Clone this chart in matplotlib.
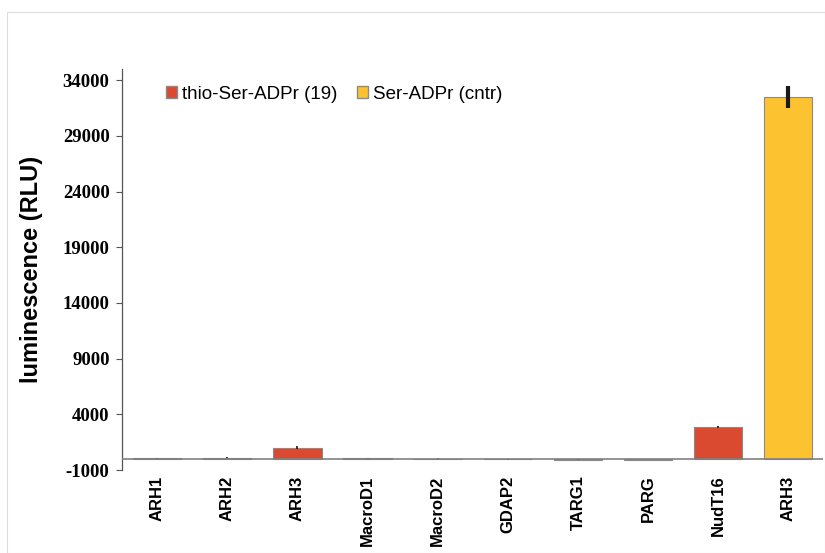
import matplotlib.pyplot as plt
import matplotlib.patches as mpatches
import numpy as np

labels = ["ARH1", "ARH2", "ARH3", "MacroD1", "MacroD2", "GDAP2", "TARG1", "PARG", "NudT16", "ARH3"]
values = [60, 100, 1000, 60, 20, -50, -60, -100, 2900, 32500]
errors = [40, 40, 120, 40, 40, 40, 40, 40, 100, 1000]
series = ["thio", "thio", "thio", "thio", "thio", "thio", "thio", "thio", "thio", "cntr"]

red = "#DA4A30"
yellow = "#FDC22F"

fig = plt.figure(figsize=(8.25, 5.53), dpi=100)
fig.patches.append(mpatches.Rectangle((0.008, 0.0), 0.992, 0.978, transform=fig.transFigure,
                                      fill=False, edgecolor="#dddddd", linewidth=0.8))
ax = fig.add_axes([0.148, 0.150, 0.850, 0.725])

x = np.arange(len(labels))
colors = [red if s == "thio" else yellow for s in series]
for i in range(len(labels)):
    lw = 3 if series[i] == "cntr" else 1.2
    ax.bar(x[i], values[i], width=0.69, color=colors[i], edgecolor="#8a8a8a", linewidth=0.8, zorder=2)
    ax.errorbar(x[i], values[i], yerr=errors[i], fmt="none", ecolor="#1a1a1a", elinewidth=lw, capsize=0, zorder=3)

ax.axhline(0, color="#808080", linewidth=1.2, zorder=4)
ax.set_xlim(-0.5, len(labels) - 0.5)
ax.set_ylim(-1000, 35000)
ax.set_yticks(np.arange(-1000, 34001, 5000))
ax.set_yticklabels([str(v) for v in np.arange(-1000, 34001, 5000)],
                   fontfamily="Liberation Serif", fontweight="bold", fontsize=13.5)
ax.set_xticks(x)
ax.set_xticklabels(labels, rotation=90, fontfamily="Liberation Sans", fontweight="bold", fontsize=12)
ax.tick_params(axis="x", length=0, pad=4)
ax.tick_params(axis="y", length=4, color="#555555", width=0.8, pad=5)

for s in ["top", "right", "bottom"]:
    ax.spines[s].set_visible(False)
ax.spines["left"].set_color("#555555")
ax.spines["left"].set_linewidth(0.9)

ax.set_ylabel("luminescence (RLU)", fontfamily="Liberation Sans", fontweight="bold", fontsize=17, labelpad=14)

handles = [mpatches.Patch(facecolor=red, edgecolor="#8a8a8a", label="thio-Ser-ADPr (19)"),
           mpatches.Patch(facecolor=yellow, edgecolor="#8a8a8a", label="Ser-ADPr (cntr)")]
ax.legend(handles=handles, loc="upper left", bbox_to_anchor=(0.038, 1.0), ncol=2, frameon=False,
          prop={"family": "Liberation Sans", "size": 13.5}, handlelength=0.6, handleheight=0.6,
          handletextpad=0.3, columnspacing=1.0)

fig.savefig("out.png", dpi=100)
